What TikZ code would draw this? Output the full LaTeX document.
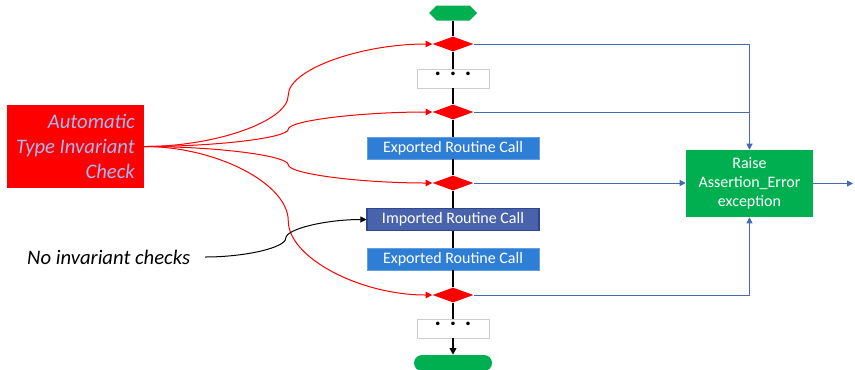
\documentclass[tikz,border=0pt]{standalone}
\usepackage{fontspec}
\setmainfont{Carlito}
\usetikzlibrary{calc,shapes.geometric,shapes.symbols,shapes.misc,arrows.meta}
\definecolor{flowred}{RGB}{255,0,0}
\definecolor{flowgreen}{RGB}{0,176,80}
\definecolor{callblue}{RGB}{46,126,214}
\definecolor{impblue}{RGB}{72,99,172}
\definecolor{impedge}{RGB}{47,72,140}
\definecolor{linkblue}{RGB}{68,106,180}
\definecolor{checktext}{RGB}{165,185,240}
\tikzset{
  check/.style={ % image of an invariant check
    diamond, fill=flowred, inner sep=0pt,
    minimum width=30.75pt, minimum height=11.25pt
  },
  call/.style={ % image of an exported routine call
    rectangle, fill=callblue, draw=callblue!75!white, text=white,
    minimum width=129pt, minimum height=16.5pt, inner sep=0pt,
    font=\fontsize{12}{14}\selectfont
  },
  impcall/.style={ % image of an imported routine call
    call, fill=impblue, draw=impedge, line width=0.8pt
  },
  skipped/.style={ % image of the elided steps
    rectangle, fill=white, draw=black!20, minimum width=54pt,
    minimum height=14.25pt, inner sep=0pt, font=\fontsize{18}{18}\bfseries
  },
  redline/.style={flowred, line width=0.75pt, -{Triangle[length=5pt,width=5pt]}},
  blueline/.style={linkblue, line width=0.75pt},
  flow/.style={black, line width=1.1pt},
  pptcurve/.style={ % curved connector, as drawn by the slide tool
    to path={
      let \p1=(\tikztostart), \p2=(\tikztotarget) in
      .. controls ({0.75*\x1+0.25*\x2},\y1) and ({0.5*\x1+0.5*\x2},{0.75*\y1+0.25*\y2})
      .. ({0.5*\x1+0.5*\x2},{0.5*\y1+0.5*\y2})
      .. controls ({0.5*\x1+0.5*\x2},{0.25*\y1+0.75*\y2}) and ({0.25*\x1+0.75*\x2},\y2)
      .. (\tikztotarget) \tikztonodes
    }
  }
}
\begin{document}
\begin{tikzpicture}[x=0.75pt, y=-0.75pt]
  \useasboundingbox (0,0) rectangle (855,369);

  % main flow
  \node[signal, signal to=west and east, fill=flowgreen, inner sep=0pt,
        minimum width=36pt, minimum height=11.25pt] (start) at (453,13) {};
  \node[check] (d1) at (453,44) {};
  \node[skipped] (dots1) at (453,78.5) {\raisebox{2.5pt}[0pt][0pt]{.\hspace{6.5pt}.\hspace{6.5pt}.}};
  \node[check] (d2) at (453,112) {};
  \node[call] (exp1) at (453,148) {Exported Routine Call};
  \node[check] (d3) at (453,183) {};
  \node[impcall] (imp) at (453,219.5) {Imported Routine Call};
  \node[call] (exp2) at (453,259) {Exported Routine Call};
  \node[check] (d4) at (453,295) {};
  \node[skipped] (dots2) at (453,328.5) {\raisebox{2.5pt}[0pt][0pt]{.\hspace{6.5pt}.\hspace{6.5pt}.}};
  \node[rounded rectangle, fill=flowgreen, inner sep=0pt,
        minimum width=58.5pt, minimum height=12pt] (stop) at (453,363) {};

  \node[rectangle, fill=flowred, text=checktext, align=right, inner sep=0pt,
        minimum width=102.75pt, minimum height=62.25pt,
        font=\itshape\fontsize{15.5}{19}\selectfont] (auto) at (75.5,146.5)
        {Automatic\\Type Invariant\\Check};
  \node[anchor=east, inner xsep=11pt, font=\itshape\fontsize{15.5}{18}\selectfont]
        (noinv) at (205,257) {No invariant checks};
  \node[rectangle, fill=flowgreen, text=white, align=center, inner sep=0pt,
        minimum width=95.25pt, minimum height=50.25pt,
        font=\fontsize{12}{14.4}\selectfont] (raise) at (749.5,183.5)
        {Raise\\Assertion\_Error\\exception};
  \coordinate (out) at (853,183.5);

  \foreach \a/\b in {start/d1,d1/dots1,dots1/d2,d2/exp1,exp1/d3,d3/imp,imp/exp2,exp2/d4,d4/dots2}
    \draw[flow] (\a) -- (\b);
  \draw[flow,-{Triangle[length=5pt,width=5pt]}] (dots2) -- (stop);

  % invariant checks
  \foreach \d in {d1,d2,d3,d4}
    \draw[redline] (auto.east) to[pptcurve] (\d.west);
  \draw[black, line width=0.75pt, -{Triangle[length=4.5pt,width=4.5pt]}]
    (noinv.east) to[pptcurve] (imp.west);

  % failure paths
  \draw[blueline,-{Triangle[length=4.5pt,width=4.5pt]}] (d1.east) -| (raise.north);
  \draw[blueline] (d2.east) -- (d2 -| raise.north);
  \draw[blueline,-{Triangle[length=4.5pt,width=4.5pt]}] (d3.east) -- (d3 -| raise.west);
  \draw[blueline,-{Triangle[length=4.5pt,width=4.5pt]}] (d4.east) -| (raise.south);
  \draw[blueline,-{Triangle[length=4.5pt,width=4.5pt]}] (raise.east) -- (out);
\end{tikzpicture}
\end{document}
